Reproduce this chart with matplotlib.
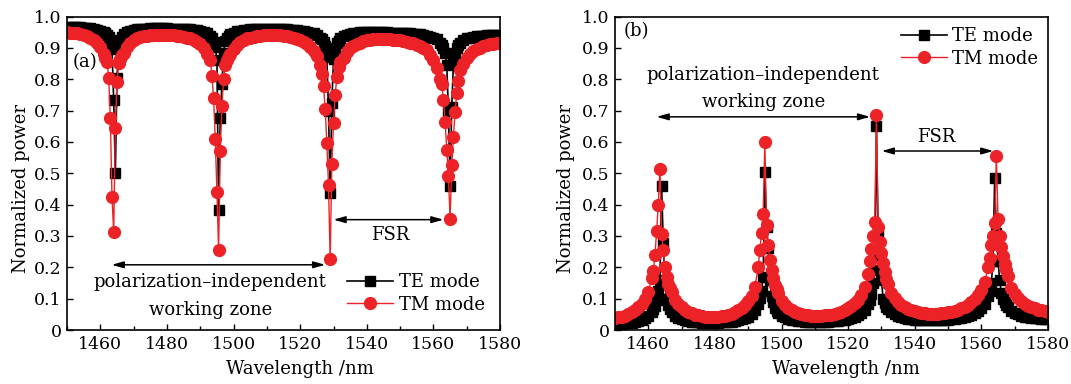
import numpy as np
import matplotlib
matplotlib.use('Agg')
import matplotlib.pyplot as plt
from matplotlib.ticker import MultipleLocator, FuncFormatter

plt.rcParams['font.family'] = ['DejaVu Serif']

# wavelength sampling (nm): 1 nm steps, 0.5 nm steps around the four resonances
wl = np.concatenate([
    np.arange(1450, 1461), np.arange(1461, 1467.5, 0.5),
    np.arange(1468, 1493), np.arange(1493, 1499.5, 0.5),
    np.arange(1500, 1526), np.arange(1526, 1532.5, 0.5),
    np.arange(1533, 1562), np.arange(1562, 1568.5, 0.5),
    np.arange(1569, 1581),
])

# (a) through port
te_through = [
    0.966, 0.966, 0.965, 0.965, 0.965, 0.964, 0.963, 0.962, 0.961, 0.958, 0.955,
    0.950, 0.947, 0.941, 0.934, 0.921, 0.895, 0.735, 0.500, 0.805, 0.907, 0.926, 0.936, 0.943,
    0.950, 0.954, 0.957, 0.959, 0.960, 0.961, 0.961, 0.962, 0.962, 0.962, 0.962, 0.962, 0.962,
    0.961, 0.961, 0.961, 0.961, 0.960, 0.960, 0.959, 0.958, 0.956, 0.954, 0.951, 0.946,
    0.938, 0.930, 0.920, 0.903, 0.860, 0.383, 0.675, 0.785, 0.885, 0.923, 0.932, 0.939, 0.943,
    0.949, 0.953, 0.955, 0.957, 0.958, 0.959, 0.960, 0.960, 0.961, 0.961, 0.961, 0.961, 0.961,
    0.960, 0.960, 0.960, 0.959, 0.958, 0.958, 0.957, 0.955, 0.954, 0.952, 0.949, 0.946, 0.941,
    0.933, 0.927, 0.919, 0.906, 0.870, 0.700, 0.437, 0.725, 0.865, 0.898, 0.914, 0.923, 0.930,
    0.937, 0.942, 0.945, 0.947, 0.949, 0.950, 0.950, 0.951, 0.951, 0.951, 0.951, 0.951, 0.950,
    0.950, 0.949, 0.949, 0.949, 0.948, 0.948, 0.947, 0.946, 0.945, 0.944, 0.943, 0.941, 0.939,
    0.936, 0.932, 0.927,
    0.917, 0.910, 0.901, 0.883, 0.845, 0.700, 0.458, 0.710, 0.850, 0.883, 0.900, 0.909, 0.916,
    0.925, 0.930, 0.933, 0.935, 0.937, 0.938, 0.939, 0.940, 0.940, 0.940, 0.940, 0.940,
]
tm_through = [
    0.950, 0.949, 0.947, 0.946, 0.944, 0.941, 0.938, 0.933, 0.926, 0.917, 0.902,
    0.879, 0.869, 0.856, 0.805, 0.675, 0.425, 0.313, 0.645, 0.790, 0.852, 0.866, 0.876, 0.885,
    0.904, 0.917, 0.925, 0.931, 0.934, 0.937, 0.939, 0.940, 0.941, 0.941, 0.942, 0.941, 0.941,
    0.941, 0.940, 0.939, 0.938, 0.936, 0.933, 0.930, 0.926, 0.920, 0.911, 0.898, 0.881,
    0.860, 0.810, 0.740, 0.610, 0.440, 0.255, 0.570, 0.715, 0.800, 0.845, 0.862, 0.874, 0.882,
    0.895, 0.910, 0.918, 0.925, 0.930, 0.933, 0.936, 0.938, 0.939, 0.940, 0.941, 0.942, 0.942,
    0.941, 0.940, 0.939, 0.938, 0.935, 0.933, 0.929, 0.925, 0.920, 0.913, 0.904, 0.891, 0.873,
    0.845, 0.817, 0.777, 0.706, 0.595, 0.462, 0.225, 0.531, 0.661, 0.750, 0.807, 0.838, 0.855,
    0.869, 0.886, 0.898, 0.906, 0.912, 0.917, 0.921, 0.924, 0.926, 0.927, 0.928, 0.928, 0.928,
    0.927, 0.927, 0.926, 0.925, 0.924, 0.922, 0.920, 0.917, 0.914, 0.910, 0.905, 0.900, 0.892,
    0.878, 0.860, 0.835,
    0.800, 0.785, 0.735, 0.665, 0.575, 0.490, 0.355, 0.525, 0.615, 0.695, 0.755, 0.795, 0.830,
    0.850, 0.867, 0.879, 0.889, 0.896, 0.901, 0.906, 0.909, 0.911, 0.913, 0.915, 0.916,
]

# (b) drop port
te_drop = [
    0.019, 0.019, 0.020, 0.021, 0.022, 0.023, 0.026, 0.029, 0.032, 0.037, 0.044,
    0.057, 0.066, 0.078, 0.096, 0.123, 0.160, 0.460, 0.276, 0.150, 0.100, 0.080, 0.066, 0.056,
    0.046, 0.039, 0.034, 0.031, 0.028, 0.026, 0.025, 0.024, 0.023, 0.023, 0.023, 0.023, 0.023,
    0.023, 0.024, 0.024, 0.025, 0.027, 0.029, 0.031, 0.034, 0.038, 0.043, 0.051, 0.063,
    0.084, 0.101, 0.126, 0.170, 0.505, 0.330, 0.262, 0.160, 0.110, 0.090, 0.070, 0.062, 0.055,
    0.044, 0.040, 0.036, 0.033, 0.031, 0.029, 0.028, 0.027, 0.027, 0.026, 0.026, 0.026, 0.026,
    0.027, 0.027, 0.028, 0.029, 0.030, 0.031, 0.033, 0.036, 0.039, 0.042, 0.047, 0.054, 0.064,
    0.083, 0.096, 0.114, 0.150, 0.190, 0.650, 0.300, 0.240, 0.160, 0.100, 0.085, 0.074, 0.067,
    0.057, 0.050, 0.044, 0.041, 0.038, 0.036, 0.034, 0.033, 0.032, 0.031, 0.031, 0.031, 0.031,
    0.031, 0.031, 0.031, 0.032, 0.033, 0.034, 0.035, 0.037, 0.039, 0.041, 0.044, 0.048, 0.053,
    0.060, 0.069, 0.083,
    0.107, 0.123, 0.150, 0.220, 0.485, 0.310, 0.220, 0.160, 0.118, 0.100, 0.088, 0.079, 0.072,
    0.061, 0.054, 0.050, 0.046, 0.043, 0.041, 0.039, 0.038, 0.037, 0.036, 0.035, 0.035,
]
tm_drop = [
    0.038, 0.041, 0.043, 0.046, 0.051, 0.056, 0.063, 0.072, 0.083, 0.098, 0.121,
    0.165, 0.188, 0.238, 0.315, 0.400, 0.515, 0.305, 0.255, 0.200, 0.170, 0.148, 0.133, 0.120,
    0.096, 0.083, 0.072, 0.064, 0.058, 0.053, 0.049, 0.047, 0.045, 0.043, 0.043, 0.042, 0.043,
    0.043, 0.045, 0.046, 0.049, 0.052, 0.057, 0.063, 0.070, 0.080, 0.093, 0.110, 0.137,
    0.200, 0.255, 0.310, 0.370, 0.600, 0.335, 0.270, 0.222, 0.190, 0.165, 0.145, 0.130, 0.118,
    0.094, 0.081, 0.071, 0.065, 0.059, 0.055, 0.051, 0.049, 0.047, 0.046, 0.046, 0.046, 0.046,
    0.047, 0.048, 0.049, 0.051, 0.055, 0.059, 0.063, 0.069, 0.076, 0.085, 0.097, 0.113, 0.136,
    0.180, 0.220, 0.260, 0.300, 0.345, 0.685, 0.330, 0.280, 0.245, 0.215, 0.185, 0.163, 0.146,
    0.119, 0.102, 0.090, 0.081, 0.074, 0.068, 0.063, 0.060, 0.057, 0.055, 0.053, 0.052, 0.052,
    0.052, 0.052, 0.053, 0.054, 0.056, 0.058, 0.061, 0.065, 0.069, 0.074, 0.080, 0.088, 0.098,
    0.111, 0.128, 0.153,
    0.200, 0.230, 0.270, 0.300, 0.342, 0.555, 0.355, 0.300, 0.265, 0.235, 0.210, 0.190, 0.172,
    0.133, 0.116, 0.102, 0.092, 0.084, 0.078, 0.073, 0.069, 0.065, 0.063, 0.061, 0.059,
]

for name, s in [('te_through', te_through), ('tm_through', tm_through),
                ('te_drop', te_drop), ('tm_drop', tm_drop)]:
    assert len(s) == len(wl), (name, len(s), len(wl))

red = '#ec2227'


def style_axes(ax):
    ax.set_xlim(1450, 1580)
    ax.set_ylim(0, 1.0)
    ax.xaxis.set_major_locator(MultipleLocator(20))
    ax.xaxis.set_minor_locator(MultipleLocator(10))
    ax.yaxis.set_major_locator(MultipleLocator(0.1))
    ax.yaxis.set_major_formatter(FuncFormatter(lambda v, p: '0' if abs(v) < 1e-9 else '%.1f' % v))
    ax.tick_params(which='both', direction='in', top=False, right=False, labelsize=12.5, width=1)
    ax.tick_params(which='major', length=4, pad=4)
    ax.tick_params(which='minor', length=3)
    for sp in ax.spines.values():
        sp.set_linewidth(1.2)
    ax.set_xlabel('Wavelength /nm', fontsize=13)
    ax.set_ylabel('Normalized power', fontsize=13)


def dbl_arrow(ax, x0, x1, y):
    ax.annotate('', xy=(x1, y), xytext=(x0, y),
                arrowprops=dict(arrowstyle='<|-|>,head_length=0.7,head_width=0.2',
                                color='black', lw=1.1, shrinkA=0, shrinkB=0))


def draw(ax, te, tm):
    ax.plot(wl, te, '-s', color='black', lw=1.2, ms=6.5, mec='black', label='TE mode')
    ax.plot(wl, tm, '-o', color=red, lw=1.0, ms=8.5, mec=red, label='TM mode')


fig = plt.figure(figsize=(10.71, 3.84), dpi=100)
ax1 = fig.add_axes([0.0626, 0.1406, 0.4043, 0.8164])
ax2 = fig.add_axes([0.5742, 0.1406, 0.4043, 0.8164])

# panel (a)
draw(ax1, te_through, tm_through)
style_axes(ax1)
ax1.yaxis.set_label_coords(-0.085, 0.45)
ax1.xaxis.set_label_coords(0.538, -0.095)
ax1.text(1451.8, 0.855, '(a)', ha='left', va='center', fontsize=13)
dbl_arrow(ax1, 1463.4, 1527.5, 0.208)
ax1.text(1493, 0.154, 'polarization\u2013independent', ha='center', va='center', fontsize=13)
ax1.text(1493, 0.064, 'working zone', ha='center', va='center', fontsize=13)
dbl_arrow(ax1, 1530, 1563, 0.352)
ax1.text(1547, 0.303, 'FSR', ha='center', va='center', fontsize=13)
ax1.legend(loc='center left', bbox_to_anchor=(0.647, 0.117), frameon=False, fontsize=13,
           borderpad=0, borderaxespad=0, handlelength=2.55, handletextpad=0.3, labelspacing=0.25)

# panel (b)
draw(ax2, te_drop, tm_drop)
style_axes(ax2)
ax2.yaxis.set_label_coords(-0.092, 0.45)
ax2.xaxis.set_label_coords(0.534, -0.095)
ax2.text(1452.5, 0.955, '(b)', ha='left', va='center', fontsize=13)
ax2.text(1494.4, 0.812, 'polarization\u2013independent', ha='center', va='center', fontsize=13)
ax2.text(1494.5, 0.727, 'working zone', ha='center', va='center', fontsize=13)
dbl_arrow(ax2, 1462.5, 1526.6, 0.68)
dbl_arrow(ax2, 1530.1, 1563.6, 0.571)
ax2.text(1546.6, 0.616, 'FSR', ha='center', va='center', fontsize=13)
ax2.legend(loc='center left', bbox_to_anchor=(0.66, 0.901), frameon=False, fontsize=13,
           borderpad=0, borderaxespad=0, handlelength=2.55, handletextpad=0.3, labelspacing=0.25)

fig.savefig('out.png', dpi=100)
